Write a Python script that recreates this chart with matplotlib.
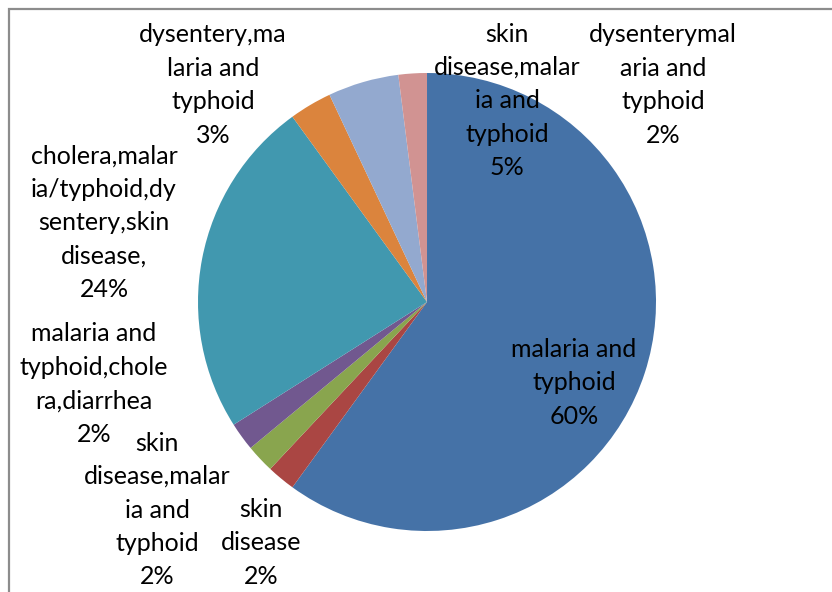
import matplotlib
matplotlib.use("Agg")
import matplotlib.pyplot as plt
from matplotlib.patches import Rectangle

# Disease combinations reported, share of respondents (%)
categories = [
    "malaria and typhoid",
    "skin disease",
    "skin disease,malaria and typhoid",
    "malaria and typhoid,cholera,diarrhea",
    "cholera,malaria/typhoid,dysentery,skin disease,",
    "dysentery,malaria and typhoid",
    "skin disease,malaria and typhoid",
    "dysenterymalaria and typhoid",
]
shares = [60, 2, 2, 2, 24, 3, 5, 2]

# Wrapped label text for each slice
wrapped_names = [
    "malaria and\ntyphoid",
    "skin\ndisease",
    "skin\ndisease,malar\nia and\ntyphoid",
    "malaria and\ntyphoid,chole\nra,diarrhea",
    "cholera,malar\nia/typhoid,dy\nsentery,skin\ndisease,",
    "dysentery,ma\nlaria and\ntyphoid",
    "skin\ndisease,malar\nia and\ntyphoid",
    "dysenterymal\naria and\ntyphoid",
]

colors = ["#4572A7", "#AA4643", "#89A54E", "#71588F",
          "#4198AF", "#DB843D", "#93A9CF", "#D19392"]

W, H = 832, 592
fig = plt.figure(figsize=(W / 100, H / 100), dpi=100)
ax = fig.add_axes([0, 0, 1, 1])

# chart frame (runs off the right and bottom edges)
ax.add_patch(Rectangle((8.5, -20), W + 40, H - 8.5 + 20, fill=False,
                       edgecolor="#8C8C8C", linewidth=1.6))

cx, cy, r = 427, H - 302, 229
explode = [0.011] + [0] * (len(shares) - 1)
ax.pie(shares, colors=colors, startangle=90, counterclock=False,
       center=(cx, cy), radius=r, explode=explode, frame=True,
       wedgeprops=dict(linewidth=0, antialiased=True))
ax.set_xlim(0, W)
ax.set_ylim(0, H)
ax.set_aspect("equal")
ax.axis("off")

# label block centres (pixels from the top-left corner)
label_pos = [(574, 383), (261, 543), (157, 510), (94, 384),
             (104, 223), (213, 85), (507, 101), (663, 85)]

for name, v, (lx, ly) in zip(wrapped_names, shares, label_pos):
    ax.text(lx, H - ly, f"{name}\n{v:.0f}%", ha="center", va="center",
            multialignment="center", fontsize=18, family="Lato",
            linespacing=1.55, color="black")

fig.savefig("out.png", dpi=100)
